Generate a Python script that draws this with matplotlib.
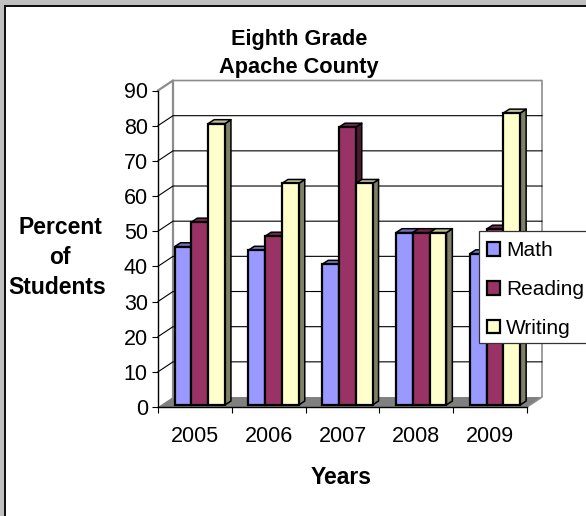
import matplotlib as mpl
mpl.use('Agg')
import matplotlib.pyplot as plt
from matplotlib.patches import Polygon, Patch, Rectangle

plt.rcParams['font.family'] = ['Liberation Sans', 'DejaVu Sans']

years = ['2005', '2006', '2007', '2008', '2009']
math_vals = [45, 44, 40, 49, 43]
reading_vals = [52, 48, 79, 49, 50]
writing_vals = [80, 63, 63, 49, 83]
series_names = ['Math', 'Reading', 'Writing']
series_vals = [math_vals, reading_vals, writing_vals]
front_cols = ['#9999FF', '#993366', '#FFFFCC']
side_cols = ['#4C4C80', '#4C1933', '#808066']
top_cols = ['#7373BF', '#732650', '#BFBF99']
y_ticks = list(range(0, 100, 10))

W, H = 586, 516
LEFT, RIGHT, BOTTOM, TOP = 158, 527, 407, 90.5

# depth of the fake 3d box, in data units
DX = 15 / 73.8
DY = 10 / 3.522
BAR_W = 0.2275
BAR_START = 0.226
BAR_DY0 = 0.6
BAR_DX = 0.08
BAR_DY = 1.1

fig = plt.figure(figsize=(W / 100, H / 100), dpi=100, facecolor='white')

# window frame
fig.patches.append(Rectangle((0, 1 - 5.5 / H), 1, 5.5 / H, transform=fig.transFigure, color='#C0C0C0', lw=0))
fig.patches.append(Rectangle((0, 0), 4 / W, 1, transform=fig.transFigure, color='#C0C0C0', lw=0))
fig.patches.append(Rectangle((4 / W, 1 - 7 / H), 1, 1.5 / H, transform=fig.transFigure, color='#111111', lw=0))
fig.patches.append(Rectangle((4 / W, 0), 1.5 / W, 1 - 5.5 / H, transform=fig.transFigure, color='#111111', lw=0))

ax = fig.add_axes([LEFT / W, 1 - BOTTOM / H, (RIGHT - LEFT) / W, (BOTTOM - TOP) / H])
ax.patch.set_visible(False)
ax.set_xlim(0, len(years))
ax.set_ylim(0, 90)

n = len(years)
gray = '#8C8C8C'

# floor
ax.add_patch(Polygon([(0, 0), (n, 0), (n + DX, DY), (DX, DY)], closed=True, fc='#808080', ec='none', zorder=1, clip_on=False))

# walls
ax.plot([0, DX, DX], [90, 90 + DY, DY], color=gray, lw=1.6, zorder=1.5, clip_on=False)
ax.plot([DX, n + DX, n + DX, n], [90 + DY, 90 + DY, DY, 0], color=gray, lw=1.2, zorder=1.5, clip_on=False)

# gridlines on the back and side wall
for v in y_ticks[1:-1]:
    ax.plot([0, DX, n + DX], [v, v + DY, v + DY], color='black', lw=0.8, zorder=1.6, clip_on=False)

# bars
for i in range(n):
    for s in range(3):
        v = series_vals[s][i]
        x0 = i + BAR_START + s * BAR_W
        x1 = x0 + BAR_W
        y0 = BAR_DY0
        y1 = v + BAR_DY0
        dx = BAR_DX
        dy = BAR_DY
        ax.add_patch(Polygon([(x1, y0), (x1 + dx, y0 + dy), (x1 + dx, y1 + dy), (x1, y1)], closed=True,
                             fc=side_cols[s], ec='black', lw=1.1, zorder=3 + s, joinstyle='round', clip_on=False))
        ax.add_patch(Polygon([(x0, y1), (x1, y1), (x1 + dx, y1 + dy), (x0 + dx, y1 + dy)], closed=True,
                             fc=top_cols[s], ec='black', lw=1.1, zorder=3 + s, joinstyle='round', clip_on=False))
        ax.add_patch(Rectangle((x0, y0), BAR_W, v, fc=front_cols[s], ec='black', lw=1.6, zorder=3.5 + s, clip_on=False))

for side in ['top', 'right']:
    ax.spines[side].set_visible(False)
for side in ['left', 'bottom']:
    ax.spines[side].set_linewidth(1.0)
    ax.spines[side].set_zorder(8)

ax.set_yticks(y_ticks)
ax.tick_params(axis='y', length=4.3, width=0.8, labelsize=15.5, pad=3)
ax.set_xticks([i + 0.5 for i in range(n)])
ax.set_xticklabels(years)
ax.set_xticks(range(n + 1), minor=True)
ax.tick_params(axis='x', which='major', length=0, labelsize=15.5, pad=13.5)
ax.tick_params(axis='x', which='minor', length=4.3, width=0.8)

# titles and axis captions
def put(x, y, s, size=15.7):
    fig.text(x / W, 1 - y / H, s, ha='center', va='center', fontsize=size, fontweight='bold', color='black')

put(299, 39, 'Eighth Grade')
put(299, 68, 'Apache County')
put(60, 228, 'Percent', 16.5)
put(60, 258, 'of', 16.5)
put(57, 288, 'Students', 16.5)
put(341, 477, 'Years', 16.5)

# legend box runs off the right edge of the picture
ax.add_patch(Rectangle((479 / W, 1 - 343 / H), 120 / W, 112.3 / H, transform=fig.transFigure,
                       fc='white', ec='#333333', lw=0.9, zorder=9, clip_on=False))
handles = [Patch(fc=front_cols[s], ec='black', lw=1.6, label=series_names[s]) for s in range(3)]
leg = ax.legend(handles=handles, loc='upper left', bbox_to_anchor=(487 / W, 1 - 241.5 / H),
                bbox_transform=fig.transFigure, frameon=False, fontsize=15, handlelength=0.62,
                handleheight=0.62, handletextpad=0.3, labelspacing=0.95, borderpad=0,
                borderaxespad=0)
leg.set_zorder(10)

fig.savefig('out.png', dpi=100, facecolor='white')
